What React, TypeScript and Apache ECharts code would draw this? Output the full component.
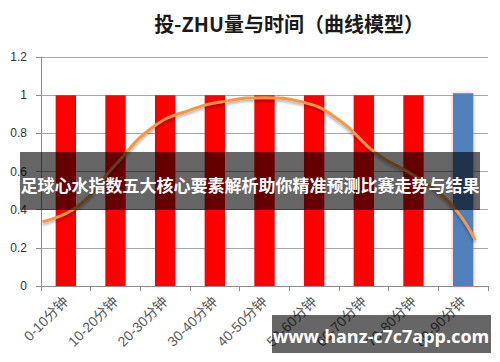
import React, { useEffect, useRef } from "react";
import * as echarts from "echarts";

const categories = [
  "0-10分钟", "10-20分钟", "20-30分钟", "30-40分钟", "40-50分钟",
  "50-60分钟", "60-70分钟", "70-80分钟", "80-90分钟",
];
const barValues = [1, 1, 1, 1, 1, 1, 1, 1, 1.01];
// curve: [minute, value]
const curveMinutes = [0.3, 7.5, 15, 22.5, 30, 37.5, 45, 52.5, 60, 67.5, 75, 82.5, 87.4];
const curveValues = [0.337, 0.42, 0.635, 0.832, 0.922, 0.97, 0.987, 0.965, 0.87, 0.695, 0.58, 0.43, 0.241];
const titleText = "投-ZHU量与时间（曲线模型）";
const bannerText = "足球心水指数五大核心要素解析助你精准预测比赛走势与结果";
const watermarkText = "www.hanz-c7c7app.com";

export default function App() {
  const ref = useRef<HTMLDivElement>(null);
  useEffect(() => {
    if (!ref.current) return;
    const chart = echarts.init(ref.current, null, { renderer: "svg" });
    const last = barValues.length - 1;
    chart.setOption({
      animation: false,
      backgroundColor: "#ffffff",
      grid: { left: 41, right: 12, top: 57, bottom: 76, containLabel: false },
      xAxis: [
        {
          type: "category",
          data: categories,
          axisLine: { show: true, lineStyle: { color: "#8c8c8c", width: 1 } },
          axisTick: { show: true, length: 5, lineStyle: { color: "#8c8c8c" } },
          axisLabel: {
            rotate: 45,
            margin: 13,
            fontSize: 14,
            color: "#595959",
            fontFamily: "Liberation Sans, Noto Sans CJK SC",
          },
        },
        { type: "value", min: 0, max: 90, show: false },
      ],
      yAxis: {
        type: "value",
        min: 0,
        max: 1.2,
        interval: 0.2,
        axisLine: { show: true, lineStyle: { color: "#8c8c8c" } },
        axisTick: { show: true, length: 5, lineStyle: { color: "#8c8c8c" } },
        axisLabel: {
          margin: 14,
          fontSize: 12,
          color: "#333333",
          fontFamily: "Liberation Sans, sans-serif",
        },
        splitLine: { show: true, lineStyle: { color: "#a6a6a6", width: 1 } },
      },
      series: [
        {
          type: "bar",
          barWidth: "41%",
          data: barValues.map((v, i) =>
            i === last
              ? {
                  value: v,
                  itemStyle: {
                    color: "#4F81BD",
                    shadowColor: "rgba(255,120,120,0.6)",
                    shadowBlur: 4,
                  },
                }
              : { value: v, itemStyle: { color: "#FF0000" } }
          ),
        },
        {
          type: "line",
          xAxisIndex: 1,
          smooth: 0.5,
          symbol: "none",
          data: curveMinutes.map((m, i) => [m, curveValues[i]]),
          lineStyle: {
            color: "#F79646",
            width: 3,
            shadowColor: "rgba(0,0,0,0.35)",
            shadowBlur: 3,
            shadowOffsetY: 2,
          },
          z: 5,
        },
      ],
      graphic: [
        {
          type: "text",
          x: 289,
          y: 23,
          z: 100,
          style: {
            text: titleText,
            textAlign: "center",
            textVerticalAlign: "middle",
            fontSize: 20,
            fontWeight: "bold",
            fill: "#1a1a1a",
            fontFamily: "Noto Sans CJK SC",
          },
        },
        {
          type: "rect",
          z: 100,
          shape: { x: 20, y: 152, width: 460, height: 58 },
          style: { fill: "rgba(0,0,0,0.6)" },
        },
        {
          type: "text",
          x: 250,
          y: 184,
          z: 101,
          style: {
            text: bannerText,
            textAlign: "center",
            textVerticalAlign: "middle",
            fontSize: 17,
            fontWeight: "bold",
            fill: "#ffffff",
            fontFamily: "Noto Sans CJK SC",
          },
        },
        {
          type: "rect",
          z: 100,
          shape: { x: 272, y: 315, width: 219, height: 38 },
          style: { fill: "rgba(0,0,0,0.6)" },
        },
        {
          type: "text",
          x: 381,
          y: 336,
          z: 101,
          style: {
            text: watermarkText,
            textAlign: "center",
            textVerticalAlign: "middle",
            fontSize: 18,
            fontWeight: "bold",
            fill: "#ffffff",
            fontFamily: "Open Sans, sans-serif",
          },
        },
      ],
    });
    return () => chart.dispose();
  }, []);
  return (
    <div
      ref={ref}
      style={{ position: "absolute", left: 0, top: 0, width: 500, height: 362 }}
    />
  );
}
